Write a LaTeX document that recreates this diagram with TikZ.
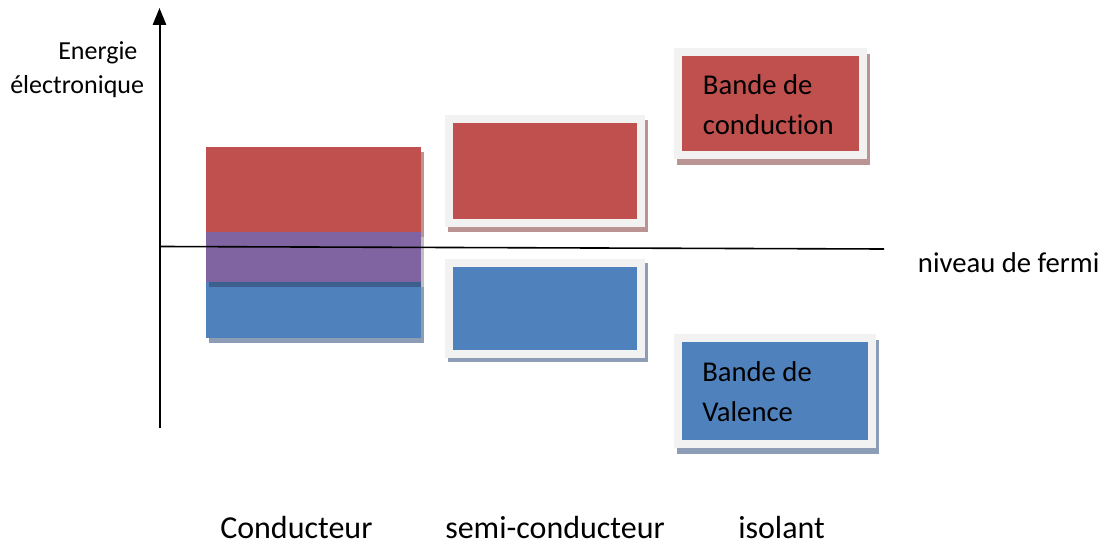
\documentclass[tikz,border=0pt]{standalone}
\usepackage{fontspec}
\setmainfont{Carlito}[Ligatures=NoCommon]
\usetikzlibrary{shadows,arrows.meta}
\definecolor{bandred}{HTML}{C0504D}
\definecolor{bandblue}{HTML}{4F81BD}
\definecolor{bandpurple}{HTML}{8064A2}
\definecolor{framegray}{HTML}{F2F2F2}
\definecolor{shred}{HTML}{BA9493}
\definecolor{shblue}{HTML}{8D9DB5}
\begin{document}
\begin{tikzpicture}[x=0.75pt,y=-0.75pt,
  box/.style={rectangle, draw=none, inner sep=0pt, outer sep=0pt, anchor=north west},
  size/.style 2 args={minimum width=#1*0.75pt, minimum height=#2*0.75pt},
  sh/.style n args={3}{drop shadow={shadow xshift=#1*0.75pt, shadow yshift=-#2*0.75pt, fill=#3, opacity=1}},
  framed/.style={fill=framegray, path picture={
      \fill[#1] ([xshift=6pt,yshift=-6pt]path picture bounding box.north west)
        rectangle ([xshift=-6pt,yshift=6pt]path picture bounding box.south east);}},
  boxtext/.style={anchor=base west, inner sep=0pt, align=left, font=\fontsize{21.5}{30}\selectfont},
  caption/.style={anchor=base west, inner sep=0pt, font=\fontsize{24}{28}\selectfont},
  axistext/.style={anchor=base west, inner sep=0pt, font=\fontsize{19.5}{24}\selectfont},
  axisline/.style={line width=1.5pt},
  fermiline/.style={line width=1.2pt},
]
\path[use as bounding box] (0,0) rectangle (1106,545);

% conductor: overlapping bands
\node[box, size={215}{85}, fill=bandred, sh={3}{5}{shred}] (condC) at (206,147) {};
\node[box, size={215}{56}, fill=bandblue, sh={3}{5}{shblue}] (condV) at (206,282) {};
\node[box, size={215}{50}, fill=bandpurple,
      drop shadow={shadow xshift=2pt, shadow yshift=-4pt, fill=black, opacity=0.25}] (condO) at (206,232) {};

% semiconductor: separated bands with a small gap
\node[box, size={200}{112}, framed=bandred, sh={3}{5}{shred}] (semiC) at (445,115) {};
\node[box, size={200}{99}, framed=bandblue, sh={3}{4}{shblue}] (semiV) at (445,259) {};

% insulator: widely separated bands (labels anchored on their last line)
\node[box, size={193}{111}, framed=bandred, sh={3}{6}{shred}] (isoC) at (674,48) {};
\node[box, size={202}{114}, framed=bandblue, sh={3}{6}{shblue}] (isoV) at (674,334) {};
\node[boxtext] (isoCt) at (702.7,134.5) {Bande de\\conduction};
\node[boxtext] (isoVt) at (702,421) {Bande de\\Valence};

% energy axis
\coordinate (axB) at (159.5,428);
\coordinate (axT) at (159.5,8);
\draw[axisline, -{Triangle[length=12.75pt,width=10pt]}] (axB) -- (axT);
\node[axistext] (eng1) at (58,60) {Energie};
\node[axistext] (eng2) at (10,94) {électronique};

% Fermi level
\coordinate (fL) at (160,246.5);
\coordinate (fR) at (884,249);
\draw[fermiline] (fL) -- (fR);
\node[boxtext] (fermi) at (917.7,272.7) {niveau de fermi};

% material names
\node[caption] (capC) at (220,538) {Conducteur};
\node[caption] (capS) at (445,538) {semi-conducteur};
\node[caption] (capI) at (738,538) {isolant};
\end{tikzpicture}
\end{document}
